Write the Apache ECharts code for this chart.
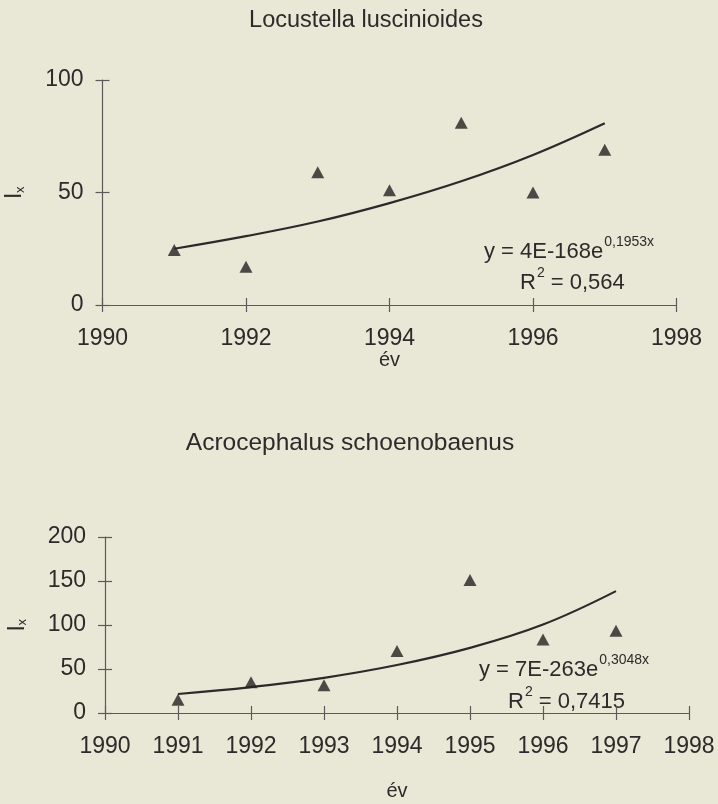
<!DOCTYPE html>
<html>
<head>
<meta charset="utf-8">
<script src="https://cdn.jsdelivr.net/npm/echarts@6/dist/echarts.min.js"></script>
<style>
html,body{margin:0;padding:0;background:#e9e7d6;}
#c{width:718px;height:804px;}
</style>
</head>
<body>
<div id="c"></div>
<script>
const years = [1991, 1992, 1993, 1994, 1995, 1996, 1997];
const lxLocustella = [24.5, 17, 59, 51, 81, 50, 69];
const trendLocustella = [25, 30.6, 37.1, 45.3, 55, 66.7, 80.8];
const lxAcrocephalus = [15, 35, 31.5, 70.5, 151, 83.5, 93.5];
const trendAcrocephalus = [21.6, 29.5, 40, 54.5, 74, 100.5, 138.5];
const titleTop = 'Locustella luscinioides';
const titleBottom = 'Acrocephalus schoenobaenus';
const xName = 'év';
const eqTop = ['y = 4E-168e', '0,1953x', 'R', '2', ' = 0,564'];
const eqBottom = ['y = 7E-263e', '0,3048x', 'R', '2', ' = 0,7415'];

const FONT = 'Liberation Sans';
const TXT = '#2b2b2b';
const AX = '#5a5a5a';

function pairs(xs, ys) { return xs.map((x, i) => [x, ys[i]]); }

const chart = echarts.init(document.getElementById('c'), null, {renderer: 'canvas'});

function xAxisDef(gi, interval, withLabel, inside, nameGap) {
  return {
    type: 'value', gridIndex: gi, min: 1990, max: 1998, interval: interval, position: 'bottom',
    name: withLabel ? xName : '', nameLocation: 'middle', nameGap: nameGap,
    nameTextStyle: {fontFamily: FONT, fontSize: 20, color: TXT},
    axisLine: {show: withLabel, lineStyle: {color: AX, width: 1.2}},
    axisTick: {show: true, inside: inside, length: 7, lineStyle: {color: AX, width: 1.2}},
    axisLabel: {show: withLabel, margin: 22, fontFamily: FONT, fontSize: 23, color: TXT,
                formatter: v => String(v)},
    splitLine: {show: false}
  };
}
function yAxisDef(gi, max, interval, withLabel, inside) {
  return {
    type: 'value', gridIndex: gi, min: 0, max: max, interval: interval, position: 'left',
    name: withLabel ? '{a|l}{b|x}' : '', nameLocation: 'middle', nameGap: 76, nameRotate: 90,
    nameTextStyle: {
      rich: {
        a: {fontFamily: FONT, fontSize: 24, color: TXT, lineHeight: 26, verticalAlign: 'bottom'},
        b: {fontFamily: FONT, fontSize: 13, color: TXT, lineHeight: 26, verticalAlign: 'bottom'}
      }
    },
    axisLine: {show: withLabel, lineStyle: {color: AX, width: 1.2}},
    axisTick: {show: true, inside: inside, length: 7, lineStyle: {color: AX, width: 1.2}},
    axisLabel: {show: withLabel, margin: 19, fontFamily: FONT, fontSize: 23, color: TXT,
                formatter: v => String(v)},
    splitLine: {show: false}
  };
}

function eqGraphic(parts, x1, y1, x2, y2) {
  return [
    {type: 'text', left: x1, top: y1, style: {
      text: '{a|' + parts[0] + '}{s|' + parts[1] + '}',
      rich: {
        a: {fontFamily: FONT, fontSize: 22, fill: TXT, lineHeight: 26, verticalAlign: 'bottom'},
        s: {fontFamily: FONT, fontSize: 14, fill: TXT, lineHeight: 26, verticalAlign: 'top', padding: [-2, 0, 0, 1]}
      }
    }},
    {type: 'text', left: x2, top: y2, style: {
      text: '{a|' + parts[2] + '}{s|' + parts[3] + '}{a|' + parts[4] + '}',
      rich: {
        a: {fontFamily: FONT, fontSize: 22, fill: TXT, lineHeight: 26, verticalAlign: 'bottom'},
        s: {fontFamily: FONT, fontSize: 14, fill: TXT, lineHeight: 26, verticalAlign: 'top', padding: [-2, 0, 0, 1]}
      }
    }}
  ];
}

const option = {
  backgroundColor: '#e9e7d6',
  animation: false,
  title: [
    {text: titleTop, left: 361, top: 4, textAlign: 'center',
     textStyle: {fontFamily: FONT, fontSize: 23.5, fontWeight: 'normal', color: TXT}},
    {text: titleBottom, left: 345, top: 426, textAlign: 'center',
     textStyle: {fontFamily: FONT, fontSize: 24.5, fontWeight: 'normal', color: TXT}}
  ],
  grid: [
    {left: 102.5, top: 80, width: 574, height: 225, containLabel: false, outerBoundsMode: 'none'},
    {left: 105, top: 537, width: 584, height: 176, containLabel: false, outerBoundsMode: 'none'}
  ],
  xAxis: [
    xAxisDef(0, 2, true, false, 36),
    xAxisDef(0, 2, false, true, 0),
    xAxisDef(1, 1, true, false, 68),
    xAxisDef(1, 1, false, true, 0)
  ],
  yAxis: [
    yAxisDef(0, 100, 50, true, false),
    yAxisDef(0, 100, 50, false, true),
    yAxisDef(1, 200, 50, true, false),
    yAxisDef(1, 200, 50, false, true)
  ],
  series: [
    {type: 'line', xAxisIndex: 0, yAxisIndex: 0, data: pairs(years, trendLocustella),
     smooth: 0.4, showSymbol: false, lineStyle: {color: '#2a2a2a', width: 2.2}, z: 2},
    {type: 'scatter', xAxisIndex: 0, yAxisIndex: 0, data: pairs(years, lxLocustella),
     symbol: 'triangle', symbolSize: [13, 12], itemStyle: {color: '#222'}, z: 3},
    {type: 'line', xAxisIndex: 2, yAxisIndex: 2, data: pairs(years, trendAcrocephalus),
     smooth: 0.4, showSymbol: false, lineStyle: {color: '#2a2a2a', width: 2.2}, z: 2},
    {type: 'scatter', xAxisIndex: 2, yAxisIndex: 2, data: pairs(years, lxAcrocephalus),
     symbol: 'triangle', symbolSize: [13, 12], itemStyle: {color: '#222'}, z: 3}
  ],
  graphic: [].concat(
    eqGraphic(eqTop, 484, 235, 520, 266),
    eqGraphic(eqBottom, 479, 653, 508, 685)
  )
};
chart.setOption(option);
</script>
</body>
</html>
